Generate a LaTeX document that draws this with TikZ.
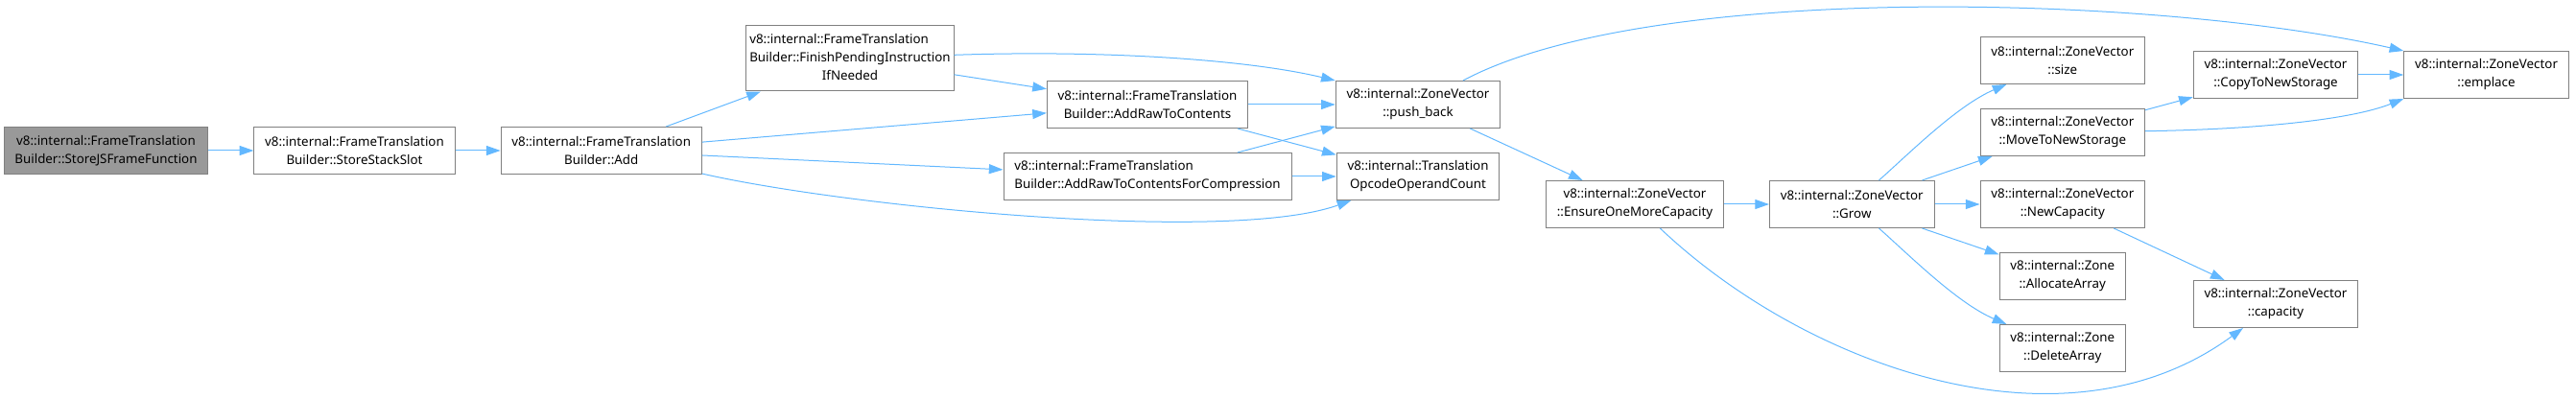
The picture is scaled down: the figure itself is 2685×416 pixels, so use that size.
\documentclass[tikz,border=0pt]{standalone}
\usepackage{fontspec}
\setmainfont{Noto Sans}
\usepackage{xcolor}
\usepackage{tikz}
\usetikzlibrary{positioning,arrows.meta}
\definecolor{boxline}{HTML}{808080}
\definecolor{rootfill}{HTML}{999999}
\definecolor{callblue}{HTML}{63B8FF}

\begin{document}
\begin{tikzpicture}[x=0.75pt, y=-0.75pt, node distance=18.75pt and 35.25pt,
    box/.style={draw=boxline, line width=0.75pt, fill=white, minimum height=36.75pt, inner xsep=8.5pt,
    align=center, font=\fontsize{10}{14.25}\selectfont},
    call/.style={draw=callblue, line width=0.75pt, ->}, >={Triangle[length=11pt, width=7.5pt]}]
    \useasboundingbox (0,0) rectangle (2685,416);
    \node[box, fill=rootfill] (storejs) at (110.5,157) {v8::internal::FrameTranslation\\Builder::StoreJSFrameFunction};
    \node[box, right=of storejs] (storeslot) {v8::internal::FrameTranslation\\Builder::StoreStackSlot};
    \node[box, right=of storeslot] (add) {v8::internal::FrameTranslation\\Builder::Add};
    \node[box, inner xsep=2.5pt, minimum height=51pt] (finish) at (886,61) {\begin{tabular}{@{}l@{}}v8::internal::FrameTranslation\\Builder::FinishPendingInstruction\\\multicolumn{1}{@{}c@{}}{IfNeeded}\end{tabular}};
    \node[box] (addraw) at (1196,109) {v8::internal::FrameTranslation\\Builder::AddRawToContents};
    \node[box, align=left, below=of addraw] (addcomp) {v8::internal::FrameTranslation\\Builder::AddRawToContentsForCompression};
    \node[box] (pushback) at (1478,109) {v8::internal::ZoneVector\\::push\_back};
    \node[box, below=of pushback] (opcount) {v8::internal::Translation\\OpcodeOperandCount};
    \node[box] (ensure) at (1704,213) {v8::internal::ZoneVector\\::EnsureOneMoreCapacity};
    \node[box, right=of ensure] (grow) {v8::internal::ZoneVector\\::Grow};
    \node[box, right=of grow] (newcap) {v8::internal::ZoneVector\\::NewCapacity};
    \node[box, above=of newcap] (move) {v8::internal::ZoneVector\\::MoveToNewStorage};
    \node[box, above=of move] (size) {v8::internal::ZoneVector\\::size};
    \node[box, below=of newcap] (alloc) {v8::internal::Zone\\::AllocateArray};
    \node[box, below=of alloc] (delarr) {v8::internal::Zone\\::DeleteArray};
    \node[box] (copy) at (2372,78) {v8::internal::ZoneVector\\::CopyToNewStorage};
    \node[box, right=of copy] (emplace) {v8::internal::ZoneVector\\::emplace};
    \node[box] (capacity) at (2372,317) {v8::internal::ZoneVector\\::capacity};

    \draw[call] (storejs) -- (storeslot);
    \draw[call] (storeslot) -- (add);
    \draw[call] (add) -- (finish);
    \draw[call] (add) -- (addraw);
    \draw[call] (add) -- (addcomp);
    \draw[call] (add) .. controls (880,215) and (1280,255) .. (opcount);
    \draw[call] (finish) .. controls (1150,52) and (1300,62) .. (pushback.north west);
    \draw[call] (finish) -- (addraw);
    \draw[call] (addraw) -- (pushback);
    \draw[call] (addraw) -- (opcount);
    \draw[call] (addcomp) -- (pushback);
    \draw[call] (addcomp) -- (opcount);
    \draw[call] (pushback) .. controls (1720,-20) and (2250,-5) .. (emplace.north west);
    \draw[call] (pushback) -- (ensure);
    \draw[call] (ensure) -- (grow);
    \draw[call] (ensure) .. controls (1880,380) and (2150,480) .. (capacity);
    \draw[call] (grow) .. controls (1990,160) and (2040,110) .. (size);
    \draw[call] (grow) -- (move);
    \draw[call] (grow) -- (newcap);
    \draw[call] (grow) -- (alloc);
    \draw[call] (grow) .. controls (1990,266) and (2040,316) .. (delarr);
    \draw[call] (move) -- (copy);
    \draw[call] (move) .. controls (2350,135) and (2450,125) .. (emplace.south west);
    \draw[call] (copy) -- (emplace);
    \draw[call] (newcap) -- (capacity);
\end{tikzpicture}
\end{document}
